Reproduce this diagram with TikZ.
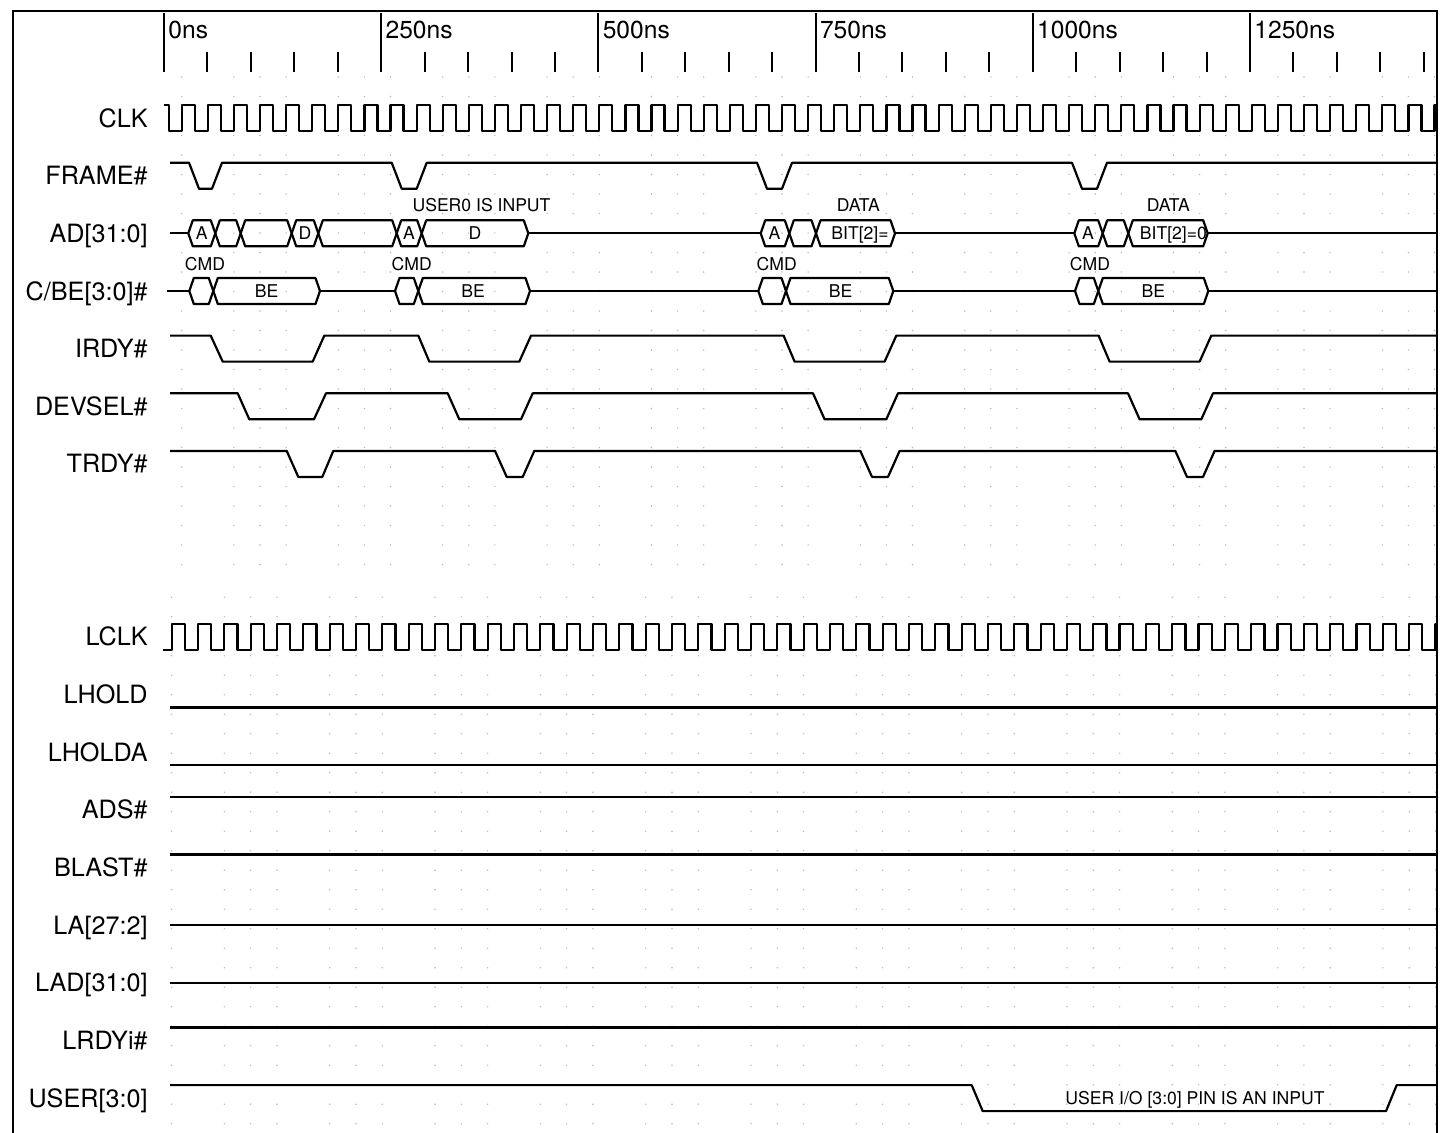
\documentclass[tikz,border=0pt]{standalone}
\usepackage{fontspec}
\setmainfont{TeX Gyre Heros}
\newcommand{\hexseg}[3]{%
  \draw[sig] (#1,#3) -- ({#1+4.5},{#3-13}) -- ({#2-4.5},{#3-13}) -- (#2,#3) -- ({#2-4.5},{#3+13}) -- ({#1+4.5},{#3+13}) -- cycle;}
\begin{document}
\begin{tikzpicture}[x=0.5pt,y=-0.5pt,
  sig/.style={line width=1.1pt, line join=round},
  big/.style={font=\fontsize{12.6}{14}\selectfont, inner sep=0pt},
  ruler/.style={font=\fontsize{12.3}{14}\selectfont, inner sep=0pt},
  small/.style={font=\fontsize{8.8}{10}\selectfont, inner sep=0pt, anchor=base},
  lbl/.style={big, anchor=base east},
  dotc/.style={fill=gray!55}
]
\useasboundingbox (0,0) rectangle (1445,1132);
\fill[white] (0,0) rectangle (1445,1132);

% faint grid dots
\foreach \n in {0,2,3,4,6,7,8,10,11,12,14,15,16,18,19,20,22,23,24,26,27,28,30,31,32,34,35,36,38,39,40,42,43,44,46,47,48} {
  \foreach \m in {0,...,25} { \fill[dotc] ({181.7+26.1*\n},{77+19.5*\m}) circle (0.8); }
  \foreach \m in {0,...,27} { \fill[dotc] ({171.7+26.33*\n},{597.2+19.5*\m}) circle (0.8); }
}

% frame
\draw[line width=1.2pt] (13,11) rectangle (1437,1145);

% ruler
\foreach \k/\t in {0/0ns,1/250ns,2/500ns,3/750ns,4/1000ns,5/1250ns} {
  \draw[line width=1pt] ({164+217.2*\k},13) -- ({164+217.2*\k},72);
  \node[ruler, anchor=base west] (tick\k) at ({168+217.2*\k},38.5) {\t};
  \foreach \i in {1,2,3,4} {
    \draw[line width=1pt] ({164+217.2*\k+43.44*\i},52) -- ({164+217.2*\k+43.44*\i},72);
  }
}

% labels
\node[lbl] (nclk)   at (148,127)    {CLK};
\node[lbl] (nframe) at (148,184.7)  {FRAME\#};
\node[lbl] (nad)    at (148,242.3)  {AD[31:0]};
\node[lbl] (ncbe)   at (148,300)    {C/BE[3:0]\#};
\node[lbl] (nirdy)  at (148,357.6)  {IRDY\#};
\node[lbl] (ndev)   at (148,415.3)  {DEVSEL\#};
\node[lbl] (ntrdy)  at (148,472.9)  {TRDY\#};
\node[lbl] (nlclk)  at (148,645.9)  {LCLK};
\node[lbl] (nlhold) at (148,703.5)  {LHOLD};
\node[lbl] (nlholda) at (148,761.2) {LHOLDA};
\node[lbl] (nads)   at (148,818.8)  {ADS\#};
\node[lbl] (nblast) at (148,876.5)  {BLAST\#};
\node[lbl] (nla)    at (148,934.1)  {LA[27:2]};
\node[lbl] (nlad)   at (148,991.8)  {LAD[31:0]};
\node[lbl] (nlrdy)  at (148,1049.4) {LRDYi\#};
\node[lbl] (nuser)  at (148,1107.1) {USER[3:0]};

% clocks
\begin{scope}
\clip (0,0) rectangle (1437,1132);
\draw[sig] (164,105) -- (168.65,105) -- (168.65,131)
  \foreach \n in {0,...,48} { -- ({181.7+26.1*\n},131) -- ({181.7+26.1*\n},105) -- ({194.75+26.1*\n},105) -- ({194.75+26.1*\n},131) };
\draw[sig] (163,649.9)
  \foreach \n in {0,...,48} { -- ({171.7+26.33*\n},649.9) -- ({171.7+26.33*\n},623.9) -- ({184.86+26.33*\n},623.9) -- ({184.86+26.33*\n},649.9) };
\end{scope}

% FRAME#
\draw[sig] (170,162.7) -- (189,162.7) -- (199,188.7) -- (212,188.7) -- (222,162.7)
  -- (391.7,162.7) -- (401.7,188.7) -- (416.7,188.7) -- (426.7,162.7)
  -- (757,162.7) -- (767,188.7) -- (782,188.7) -- (792,162.7)
  -- (1072,162.7) -- (1082,188.7) -- (1097,188.7) -- (1107,162.7) -- (1437,162.7);

% AD[31:0]
\draw[sig] (170,233.3) -- (188.3,233.3);
\draw[sig] (528.3,233.3) -- (760.7,233.3);
\draw[sig] (895,233.3) -- (1074.3,233.3);
\draw[sig] (1207.7,233.3) -- (1437,233.3);
\hexseg{188.3}{215.3}{233.3}
\hexseg{215.3}{240.7}{233.3}
\hexseg{240.7}{291.7}{233.3}
\hexseg{291.7}{318.3}{233.3}
\hexseg{318.3}{396.7}{233.3}
\hexseg{396.7}{421.7}{233.3}
\hexseg{421.7}{528.3}{233.3}
\hexseg{760.7}{789.3}{233.3}
\hexseg{789.3}{816}{233.3}
\hexseg{816}{895}{233.3}
\hexseg{1074.3}{1102.7}{233.3}
\hexseg{1102.7}{1128.3}{233.3}
\hexseg{1128.3}{1207.7}{233.3}
\node[small] (ta1) at (201.8,239.6) {A};
\node[small] (td1) at (305,239.6) {D};
\node[small] (ta2) at (409,239.6) {A};
\node[small] (td2) at (475,239.6) {D};
\node[small] (ta3) at (774.5,239.6) {A};
\node[small] (ta4) at (1088,239.6) {A};
\node[small, anchor=base west] (tb3) at (831,239.6) {BIT[2]=};
\node[small, anchor=base west] (tb4) at (1139.5,239.6) {BIT[2]=0};
\node[small] (tu0) at (481.5,211.3) {USER0 IS INPUT};
\node[small] (tdata3) at (858.3,211.3) {DATA};
\node[small] (tdata4) at (1168.3,211.3) {DATA};

% C/BE[3:0]#
\draw[sig] (166.7,291) -- (189.3,291);
\draw[sig] (320,291) -- (395,291);
\draw[sig] (530,291) -- (758.3,291);
\draw[sig] (893.3,291) -- (1075,291);
\draw[sig] (1208.3,291) -- (1437,291);
\hexseg{189.3}{213.3}{291}
\hexseg{213.3}{320}{291}
\hexseg{395}{418.3}{291}
\hexseg{418.3}{530}{291}
\hexseg{758.3}{786}{291}
\hexseg{786}{893.3}{291}
\hexseg{1075}{1098.3}{291}
\hexseg{1098.3}{1208.3}{291}
\node[small] (tbe1) at (266.7,297.3) {BE};
\node[small] (tbe2) at (473,297.3) {BE};
\node[small] (tbe3) at (840.5,297.3) {BE};
\node[small] (tbe4) at (1153.3,297.3) {BE};
\node[small] (tc1) at (205,270.3) {CMD};
\node[small] (tc2) at (411.7,270.3) {CMD};
\node[small] (tc3) at (776.7,270.3) {CMD};
\node[small] (tc4) at (1090,270.3) {CMD};

% IRDY#
\draw[sig] (170,335.6) -- (210.7,335.6) -- (222.7,361.6) -- (312.7,361.6) -- (324.3,335.6)
  -- (418.3,335.6) -- (429.3,361.6) -- (519.3,361.6) -- (531,335.6)
  -- (783.6,335.6) -- (794.6,361.6) -- (884.6,361.6) -- (896.3,335.6)
  -- (1098.6,335.6) -- (1109.6,361.6) -- (1199.6,361.6) -- (1211.3,335.6) -- (1437,335.6);

% DEVSEL#
\draw[sig] (170,393.3) -- (237.7,393.3) -- (249.3,419.3) -- (314,419.3) -- (326,393.3)
  -- (447.7,393.3) -- (459.3,419.3) -- (521,419.3) -- (532.7,393.3)
  -- (813,393.3) -- (824.6,419.3) -- (886.3,419.3) -- (898,393.3)
  -- (1128,393.3) -- (1139.6,419.3) -- (1201.3,419.3) -- (1213,393.3) -- (1437,393.3);

% TRDY#
\draw[sig] (170,450.9) -- (286.7,450.9) -- (298.3,476.9) -- (322.3,476.9) -- (333.3,450.9)
  -- (495,450.9) -- (506.7,476.9) -- (522.7,476.9) -- (534.3,450.9)
  -- (860.3,450.9) -- (872,476.9) -- (888,476.9) -- (899.6,450.9)
  -- (1175.3,450.9) -- (1187,476.9) -- (1203,476.9) -- (1214.6,450.9) -- (1437,450.9);

% local bus static lines
\draw[sig] (170,707.5) -- (1437,707.5);
\draw[sig] (170,765.2) -- (1437,765.2);
\draw[sig] (170,796.8) -- (1437,796.8);
\draw[sig] (170,854.5) -- (1437,854.5);
\draw[sig] (170,925.1) -- (1437,925.1);
\draw[sig] (170,982.8) -- (1437,982.8);
\draw[sig] (170,1027.4) -- (1437,1027.4);

% USER[3:0]
\draw[sig] (170,1085.1) -- (971.7,1085.1) -- (982.7,1111.1) -- (1386,1111.1) -- (1396.7,1085.1) -- (1437,1085.1);
\node[small] (tuser) at (1195,1104.4) {USER I/O [3:0] PIN IS AN INPUT};
\end{tikzpicture}
\end{document}
